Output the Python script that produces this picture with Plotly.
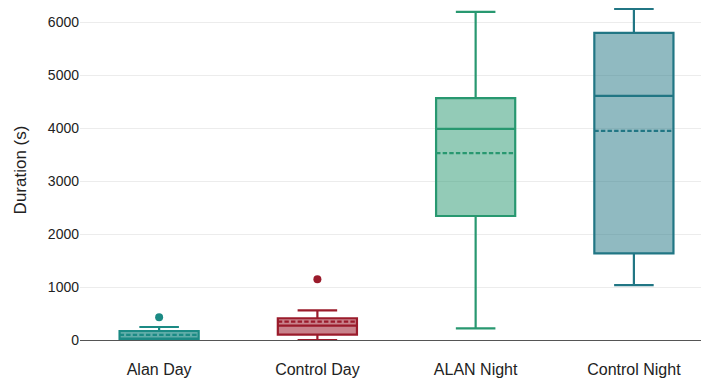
import plotly.graph_objects as go

categories = ["Alan Day", "Control Day", "ALAN Night", "Control Night"]
q1 = [0, 100, 2340, 1635]
median = [25, 270, 3985, 4605]
q3 = [170, 410, 4565, 5795]
lowerfence = [0, 0, 220, 1035]
upperfence = [245, 560, 6190, 6245]
mean = [95, 345, 3525, 3945]
outlier_cats = ["Alan Day", "Control Day"]
outlier_vals = [428, 1145]

line_colors = ["#1b8a84", "#9a1b2b", "#289870", "#217684"]
fill_colors = ["rgba(27,138,132,0.7)", "rgba(154,27,43,0.55)",
               "rgba(40,152,112,0.5)", "rgba(33,118,132,0.5)"]
outlier_colors = ["#1b8a84", "#9a1b2b"]

fig = go.Figure()
for i, c in enumerate(categories):
    fig.add_trace(go.Box(
        x=[c], q1=[q1[i]], median=[median[i]], q3=[q3[i]],
        lowerfence=[lowerfence[i]], upperfence=[upperfence[i]], mean=[mean[i]],
        boxmean=True, boxpoints=False, width=0.5, whiskerwidth=0.5,
        line=dict(color=line_colors[i], width=2.2), fillcolor=fill_colors[i],
        showlegend=False, hoverinfo="y"))

for c, v, col in zip(outlier_cats, outlier_vals, outlier_colors):
    fig.add_trace(go.Scatter(x=[c], y=[v], mode="markers",
                             marker=dict(color=col, size=8), showlegend=False))

fig.update_layout(
    width=701, height=379,
    margin=dict(l=80, r=0, t=0, b=39),
    paper_bgcolor="white", plot_bgcolor="white",
    boxmode="overlay",
    font=dict(family="Liberation Sans, Arial, sans-serif", size=14, color="#222"),
)
fig.update_xaxes(
    type="category", categoryorder="array", categoryarray=categories,
    range=[-0.5, 3.424], showline=True, linecolor="#555", linewidth=1.3,
    showgrid=False, ticks="outside", ticklen=15, tickcolor="rgba(0,0,0,0)",
    tickfont=dict(size=16, color="#222"),
)
fig.update_yaxes(
    range=[0, 6415], tickvals=[0, 1000, 2000, 3000, 4000, 5000, 6000],
    showgrid=True, gridcolor="#ececec", gridwidth=1, zeroline=False,
    title=dict(text="Duration (s)", font=dict(size=17, color="#222"), standoff=16),
    tickfont=dict(size=14, color="#222"),
)

fig.write_html("out.html", config={"displayModeBar": False},
               post_script="document.body.style.margin='0';")
